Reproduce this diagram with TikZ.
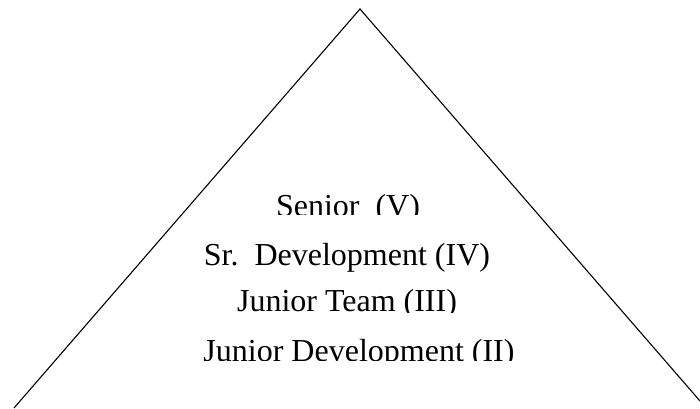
\documentclass[tikz,border=0pt]{standalone}
\usepackage{fontspec}
\setmainfont{Liberation Serif}

\begin{document}
\begin{tikzpicture}[x=1pt, y=1pt]
  \useasboundingbox (0,0) rectangle (700,408);

  % Pyramid
  \begin{scope}[line width=1.1pt]
    \coordinate (apex) at (360,399);
    \coordinate (left) at (14,0);
    \coordinate (right) at (700,7);

    \draw (left) -- (apex) -- (right);
  \end{scope}

  % Levels
  \begin{scope}[every node/.style={anchor=base, inner sep=0pt, font=\fontsize{32}{38}\selectfont}]
    \begin{scope}
      \clip (150,194) rectangle (550,240);
      \node (senior) at (348,192) {Senior\ \ (V)};
    \end{scope}

    \node (srdev) at (347,143) {Sr.\ \ Development (IV)};

    \begin{scope}
      \clip (150,96) rectangle (550,140);
      \node (jrteam) at (347,97) {Junior Team (III)};
    \end{scope}

    \begin{scope}
      \clip (150,48) rectangle (550,90);
      \node (jrdev) at (359,47) {Junior Development (II)};
    \end{scope}
  \end{scope}
\end{tikzpicture}
\end{document}
